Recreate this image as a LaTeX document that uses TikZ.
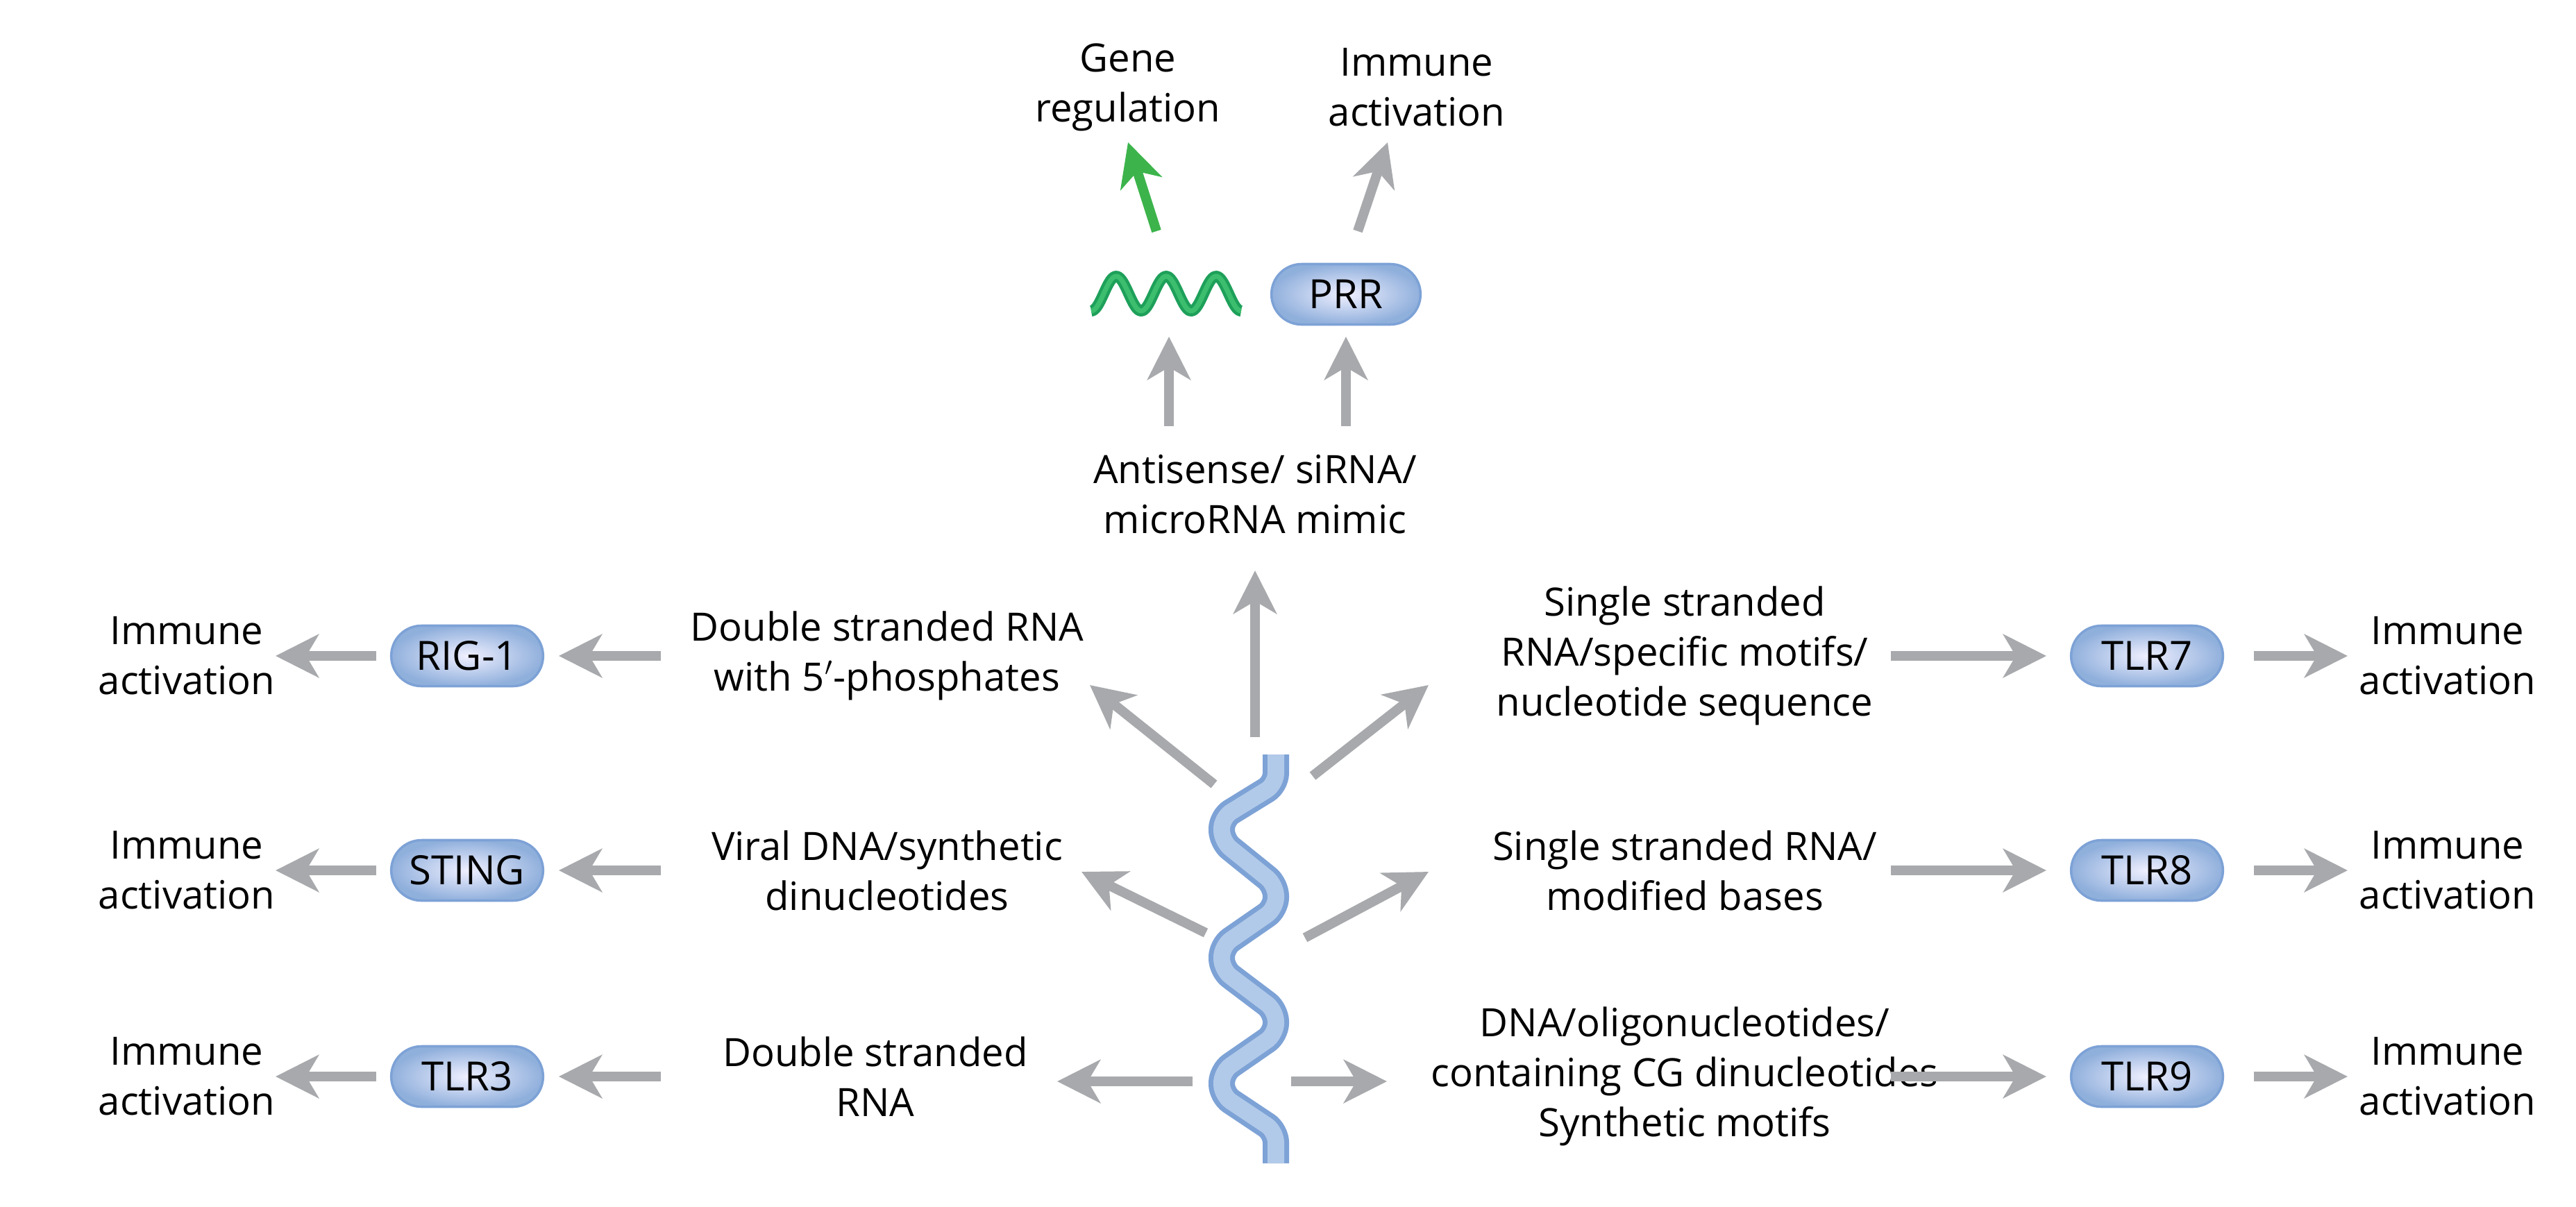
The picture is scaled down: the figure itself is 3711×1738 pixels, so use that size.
\documentclass[tikz,border=0pt]{standalone}
\usepackage{fontspec}
\setmainfont{Open Sans}
\usetikzlibrary{arrows.meta,shapes.misc}
\definecolor{ag}{RGB}{167,169,172}
\definecolor{bb}{RGB}{125,162,214}
\definecolor{bl}{RGB}{178,202,233}
\definecolor{gd}{RGB}{30,160,90}
\definecolor{gl}{RGB}{60,190,110}
\definecolor{ga}{RGB}{60,180,75}
\begin{document}
\begin{tikzpicture}[x=0.01cm,y=-0.01cm,
  txt/.style={align=center,font=\fontsize{16pt}{20.5pt}\selectfont,inner sep=0pt},
  box/.style={rounded rectangle,minimum width=2.42cm,minimum height=0.87cm,inner color=blue!6,outer color=bb!85,draw=bb,line width=1pt,font=\fontsize{16.5pt}{20.5pt}\selectfont},
  arr/.style={draw=ag,line width=0.14cm,-{Stealth[length=0.62cm,width=0.62cm,inset=0.18cm]}}]
\useasboundingbox[fill=white] (0,0) rectangle (3711,1738);
% top
\node[txt] (gene) at (1625,126) {Gene\\regulation};
\node[txt] (imtop) at (2041,126) {Immune\\activation};
\node[box,minimum width=2.38cm] (prr) at (1939,424) {PRR};
\coordinate (wave) at (1678,422);
\foreach \w/\c in {16/gd,7/gl}{
 \draw[\c,line width=\w*0.1mm,line join=round] plot[domain=0:3,samples=90,smooth] ({1572+72*\x},{423+25*cos(360*\x)});}
\coordinate (g1) at (1666,333); \coordinate (g2) at (1625,205);
\draw[draw=ga,line width=0.14cm,-{Stealth[length=0.62cm,width=0.62cm,inset=0.18cm]}] (g1)--(g2);
\coordinate (p1) at (1956,333); \coordinate (p2) at (1999,205);
\draw[arr] (p1)--(p2);
\node[txt] (anti) at (1808,712) {Antisense/ siRNA/\\microRNA mimic};
\coordinate (a1) at (1684,614); \coordinate (a2) at (1684,485);
\coordinate (b1) at (1939,614); \coordinate (b2) at (1939,485);
\draw[arr] (a1)--(a2); \draw[arr] (b1)--(b2);
% helix
\foreach \w/\c in {38/bb,24/bl}{
\draw[\c,line width=\w*0.1mm,rounded corners=0.16cm] (1838,1087)--(1838,1130)--(1760,1178)--(1760,1212)--(1838,1275)--(1838,1309)--(1760,1363)--(1760,1397)--(1838,1456)--(1838,1490)--(1760,1544)--(1760,1578)--(1838,1630)--(1838,1676);}
\coordinate (hv) at (1808,1062);
\coordinate (hve) at (1808,822);
\draw[arr] (hv)--(hve);
% left
\coordinate (l1) at (1749,1130); \coordinate (l2) at (1737,1344); \coordinate (l3) at (1718,1558);
\coordinate (r1) at (1891,1118); \coordinate (r2) at (1880,1351); \coordinate (r3) at (1860,1558);
\foreach \i/\y/\bx/\t/\tx/\e/\ex in {1/945/RIG-1/{Double stranded RNA\\with 5$'$-phosphates}/1278/1570/987, 2/1254/STING/{Viral DNA/synthetic\\dinucleotides}/1278/1558/1256, 3/1551/TLR3/{Double stranded\\RNA}/1261/1523/1558}{
 \node[txt] (lt\i) at (\tx,\y) {\t};
 \node[box] (lb\i) at (673,\y) {\bx};
 \node[txt] (li\i) at (269,\y) {Immune\\activation};
 \coordinate (le\i) at (\e,\ex);
 \draw[arr] (l\i)--(le\i);
 \coordinate (lx\i) at (952,\y); \coordinate (ly\i) at (805,\y);
 \draw[arr] (lx\i)--(ly\i);
 \coordinate (lz\i) at (542,\y); \coordinate (lw\i) at (397,\y);
 \draw[arr] (lz\i)--(lw\i);
}
\foreach \i/\y/\bx/\t/\e/\ex in {1/945/TLR7/{Single stranded\\RNA/specific motifs/\\nucleotide sequence}/2058/987, 2/1254/TLR8/{Single stranded RNA/\\modified bases}/2058/1256, 3/1551/TLR9/{DNA/oligonucleotides/\\containing CG dinucleotides\\Synthetic motifs}/1998/1558}{
 \node[txt] (rt\i) at (2427,\y) {\t};
 \node[box] (rb\i) at (3093,\y) {\bx};
 \node[txt] (ri\i) at (3526,\y) {Immune\\activation};
 \coordinate (re\i) at (\e,\ex);
 \draw[arr] (r\i)--(re\i);
 \coordinate (rx\i) at (2724,\y); \coordinate (ry\i) at (2948,\y);
 \draw[arr] (rx\i)--(ry\i);
 \coordinate (rz\i) at (3247,\y); \coordinate (rw\i) at (3382,\y);
 \draw[arr] (rz\i)--(rw\i);
}
\end{tikzpicture}
\end{document}
